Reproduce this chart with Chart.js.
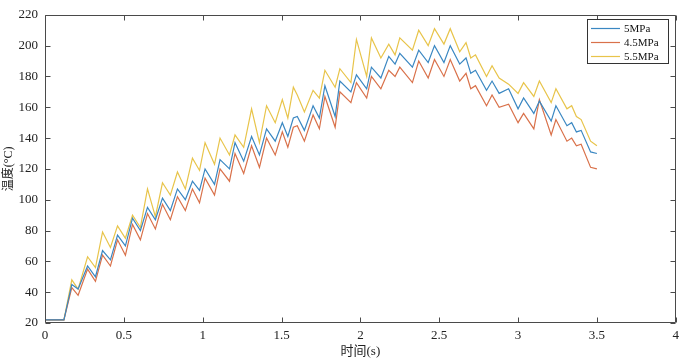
<!DOCTYPE html>
<html><head><meta charset="utf-8">
<script src="https://cdn.jsdelivr.net/npm/chart.js@4.4.0/dist/chart.umd.min.js"></script>
<style>html,body{margin:0;padding:0;background:#fff}#wrap{width:684px;height:361px;position:relative}</style>
</head><body><div id="wrap"><canvas id="c" width="684" height="361"></canvas></div>
<script>
// time (s)
const times = [0,0.12,0.17,0.21,0.27,0.32,0.365,0.415,0.46,0.51,0.555,0.605,0.65,0.70,0.745,0.795,0.84,0.89,0.935,0.98,
  1.015,1.075,1.11,1.17,1.205,1.26,1.31,1.36,1.405,1.46,1.505,1.54,1.575,1.60,1.645,1.70,1.74,1.775,1.84,1.87,
  1.94,1.975,2.04,2.07,2.13,2.18,2.22,2.25,2.33,2.37,2.43,2.47,2.53,2.57,2.63,2.67,2.70,2.73,2.80,2.835,
  2.88,2.94,3.00,3.035,3.10,3.135,3.21,3.24,3.31,3.34,3.37,3.40,3.46,3.50];
// temperature (°C)
const temp5 = [22,22,45,42,57,50,67,61,77,70,88,80,95,87,101,93,107,100,112,106,
  120,110,126,120,137,125,141,129,146,138,150,141,153,154,145,161,153,174,154,177,
  170,181,172,186,179,193,188,195,186,197,189,200,189,200,188,192,182,184,171,177,
  169,172,159,166,156,164,151,161,148,150,144,145,131,130];
const temp45 = [22,22,43,38,55,47,64,57,74,64,84,74,91,81,97,87,102,93,107,98,
  114,103,120,112,130,117,135,121,140,129,144,134,147,148,138,155,146,167,147,170,
  163,176,166,180,172,184,180,186,176,190,179,191,180,191,177,182,172,174,161,168,
  160,162,150,156,146,165,142,152,138,140,135,136,121,120];
const temp55 = [22,22,48,42,63,56,79,69,83,75,90,82,107,89,111,103,118,107,127,119,
  137,123,140,129,142,134,159,137,161,150,165,153,173,168,157,171,166,184,173,185,
  176,204,180,205,192,201,194,205,197,210,200,211,201,211,196,202,192,194,180,187,
  179,175,169,176,167,177,163,172,159,161,154,152,138,135];
const seriesNames = ['5MPa','4.5MPa','5.5MPa'];
const xTicks = [0,0.5,1,1.5,2,2.5,3,3.5,4];
const yTicks = [20,40,60,80,100,120,140,160,180,200,220];

const colors = ['#3a87c2','#d9714a','#e8c44a'];
const serif = "'Liberation Serif','Times New Roman','Noto Sans CJK SC',serif";
const toXY = arr => arr.map((v,i)=>({x:times[i], y:v}));

const frame = {
  id:'frame',
  afterDatasetsDraw(chart){
    const {ctx, chartArea:a, scales:{x,y}} = chart;
    ctx.save();
    ctx.strokeStyle = '#4a4a4a';
    ctx.lineWidth = 1;
    ctx.beginPath();
    const L=Math.round(a.left)+0.5, R=Math.round(a.right)-0.5, T=Math.round(a.top)+0.5, B=Math.round(a.bottom)-0.5;
    ctx.rect(L,T,R-L,B-T);
    const tl=5;
    xTicks.forEach(v=>{const px=Math.round(x.getPixelForValue(v))+0.5;ctx.moveTo(px,B);ctx.lineTo(px,B-tl);ctx.moveTo(px,T);ctx.lineTo(px,T+tl);});
    yTicks.forEach(v=>{const py=Math.round(y.getPixelForValue(v))+0.5;ctx.moveTo(L,py);ctx.lineTo(L+tl,py);ctx.moveTo(R,py);ctx.lineTo(R-tl,py);});
    ctx.stroke();
    // legend
    const bx=587.5, by=19.5, bw=81, bh=44;
    ctx.fillStyle='#fff';
    ctx.fillRect(bx,by,bw,bh);
    ctx.strokeStyle='#333';
    ctx.strokeRect(bx,by,bw,bh);
    ctx.font = "11px "+serif;
    ctx.textBaseline='middle';
    ctx.textAlign='left';
    chart.data.datasets.forEach((ds,i)=>{
      const ly = 28.5 + i*14;
      ctx.strokeStyle = ds.borderColor; ctx.lineWidth=1.2;
      ctx.beginPath(); ctx.moveTo(591,ly); ctx.lineTo(620,ly); ctx.stroke();
      ctx.fillStyle='#111';
      ctx.fillText(ds.label, 624, ly+0.5);
    });
    ctx.restore();
  }
};

new Chart(document.getElementById('c'), {
  type:'line',
  data:{datasets:[
    {label:seriesNames[0], data:toXY(temp5), borderColor:colors[0]},
    {label:seriesNames[1], data:toXY(temp45), borderColor:colors[1]},
    {label:seriesNames[2], data:toXY(temp55), borderColor:colors[2]}
  ]},
  options:{
    responsive:false, animation:false, devicePixelRatio:1,
    parsing:true,
    elements:{point:{radius:0}, line:{borderWidth:1.2, tension:0}},
    layout:{padding:{left:0,right:7,top:10,bottom:0}},
    plugins:{legend:{display:false}, tooltip:{enabled:false}},
    scales:{
      x:{type:'linear', min:0, max:4,
        afterBuildTicks:s=>{s.ticks = xTicks.map(v=>({value:v}));},
        afterFit:s=>{s.height=38;},
        border:{display:false},
        grid:{display:false, drawTicks:false},
        ticks:{color:'#222', padding:5, maxRotation:0, font:{family:serif,size:13}, callback:v=>String(v)},
        title:{display:true, text:'时间(s)', color:'#222', padding:{top:0,bottom:2}, font:{family:serif,size:13}}
      },
      y:{type:'linear', min:20, max:220,
        afterBuildTicks:s=>{s.ticks = yTicks.map(v=>({value:v}));},
        afterFit:s=>{s.width=45;},
        border:{display:false},
        grid:{display:false, drawTicks:false},
        ticks:{color:'#222', padding:7, font:{family:serif,size:13}, callback:v=>String(v)},
        title:{display:true, text:'温度(°C)', color:'#222', padding:{top:2,bottom:0}, font:{family:serif,size:12}}
      }
    }
  },
  plugins:[frame]
});
</script></body></html>
